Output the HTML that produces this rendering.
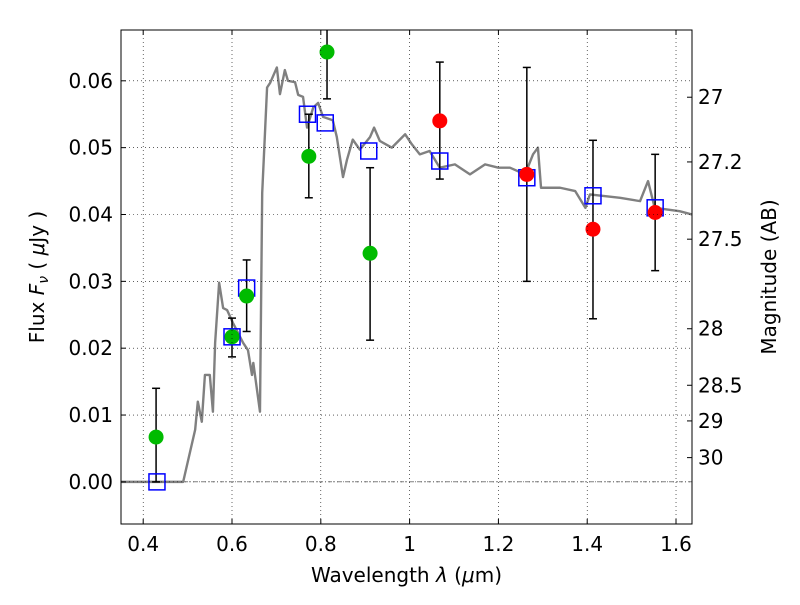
<!DOCTYPE html>
<html><head><meta charset="utf-8"><style>
body{margin:0;background:#fff;}
svg text{font-family:"DejaVu Sans","Liberation Sans",sans-serif;}
</style></head><body>
<svg id="chart" width="800" height="600"></svg>
<script>
const xTicks=[0.4,0.6,0.8,1.0,1.2,1.4,1.6];
const xTickLabels=["0.4","0.6","0.8","1","1.2","1.4","1.6"];
const yTicks=[0,0.01,0.02,0.03,0.04,0.05,0.06];
const yTickLabels=["0.00","0.01","0.02","0.03","0.04","0.05","0.06"];
const magTicks=[27,27.2,27.5,28,28.5,29,30];
const magTickLabels=["27","27.2","27.5","28","28.5","29","30"];
const specX=[0.35,0.49,0.517,0.523,0.532,0.539,0.55,0.557,0.562,0.571,0.58,0.589,0.602,0.625,0.636,0.645,0.648,0.663,0.668,0.679,0.686,0.701,0.708,0.719,0.726,0.742,0.749,0.76,0.769,0.783,0.794,0.805,0.827,0.836,0.85,0.859,0.872,0.888,0.911,0.92,0.933,0.96,0.99,1.005,1.023,1.045,1.068,1.102,1.136,1.17,1.2,1.226,1.26,1.278,1.289,1.296,1.339,1.373,1.396,1.406,1.474,1.519,1.537,1.552,1.608,1.636];
const specY=[0,0,0.0078,0.012,0.009,0.016,0.016,0.0105,0.0208,0.0298,0.026,0.0257,0.0238,0.0208,0.0197,0.016,0.0178,0.0105,0.0432,0.059,0.0597,0.062,0.058,0.0616,0.060,0.0598,0.0579,0.0576,0.053,0.056,0.0567,0.0546,0.0541,0.0516,0.0456,0.0482,0.0512,0.0497,0.0516,0.053,0.051,0.050,0.052,0.0505,0.049,0.0495,0.047,0.0475,0.046,0.0475,0.047,0.047,0.046,0.049,0.050,0.044,0.044,0.0435,0.041,0.043,0.0425,0.042,0.045,0.041,0.0405,0.040];
const greenX=[0.429,0.6,0.633,0.773,0.814,0.911];
const greenY=[0.0067,0.0217,0.0278,0.0487,0.0643,0.0342];
const greenLo=[0,0.0187,0.0225,0.0425,0.0573,0.0212];
const greenHi=[0.014,0.0245,0.0332,0.055,0.071,0.047];
const redX=[1.068,1.264,1.413,1.553];
const redY=[0.054,0.046,0.0378,0.0403];
const redLo=[0.0453,0.030,0.0244,0.0316];
const redHi=[0.0628,0.062,0.0511,0.049];
const modelX=[0.431,0.6,0.633,0.77,0.81,0.908,1.068,1.264,1.413,1.553];
const modelY=[0.0,0.0217,0.029,0.055,0.0537,0.0495,0.048,0.0455,0.0428,0.041];

const L=121,R=692,T=30,B=524;
const xmin=0.35,xmax=1.636,ymin=-0.0063,ymax=0.0676;
const sx=v=>L+(v-xmin)/(xmax-xmin)*(R-L);
const sy=v=>B-(v-ymin)/(ymax-ymin)*(B-T);
const magToFlux=m=>Math.pow(10,(23.9-m)/2.5);
const svg=document.getElementById('chart');
const NS='http://www.w3.org/2000/svg';
function mk(tag,attrs,parent){const e=document.createElementNS(NS,tag);for(const k in attrs)e.setAttribute(k,attrs[k]);(parent||svg).appendChild(e);return e;}
const clip=mk('clipPath',{id:'pc'});mk('rect',{x:L,y:T,width:R-L,height:B-T},clip);
const plot=mk('g',{'clip-path':'url(#pc)'});


xTicks.forEach((v,i)=>{const x=sx(v);
 const g=mk('line',{x1:x,x2:x,y1:T,y2:B,stroke:'#000','stroke-dasharray':'1,3','stroke-width':0.6});
 
 mk('line',{x1:x,x2:x,y1:B,y2:B-5,stroke:'#000'});mk('line',{x1:x,x2:x,y1:T,y2:T+5,stroke:'#000'});
 const t=mk('text',{x:x,y:B+27,'text-anchor':'middle','font-size':20});t.textContent=xTickLabels[i];
 });
yTicks.forEach((v,i)=>{const y=sy(v);
 const g=mk('line',{x1:L,x2:R,y1:y,y2:y,stroke:'#000','stroke-dasharray':'1,3','stroke-width':0.6});
 
 mk('line',{x1:L,x2:L+5,y1:y,y2:y,stroke:'#000'});
 const t=mk('text',{x:L-8,y:y+7,'text-anchor':'end','font-size':20});t.textContent=yTickLabels[i];
 });
magTicks.forEach((m,i)=>{const y=sy(magToFlux(m));
 mk('line',{x1:R,x2:R-5,y1:y,y2:y,stroke:'#000'});
 const t=mk('text',{x:R+6,y:y+7,'font-size':20});t.textContent=magTickLabels[i];
 });
const zl=mk('line',{x1:L,x2:R,y1:sy(0),y2:sy(0),stroke:'#000','stroke-dasharray':'4,2,1,2','stroke-width':0.6},plot);

const sp=mk('polyline',{points:specX.map((x,i)=>sx(x)+','+sy(specY[i])).join(' '),fill:'none',stroke:'#808080','stroke-width':2.4,'stroke-linejoin':'round'},plot);

function err(xs,lo,hi){xs.forEach((x,i)=>{const X=sx(x);
 const e=mk('line',{x1:X,x2:X,y1:sy(lo[i]),y2:sy(hi[i]),stroke:'#000','stroke-width':1.5},plot);
 
 mk('line',{x1:X-4,x2:X+4,y1:sy(lo[i]),y2:sy(lo[i]),stroke:'#000','stroke-width':1.5},plot);
 mk('line',{x1:X-4,x2:X+4,y1:sy(hi[i]),y2:sy(hi[i]),stroke:'#000','stroke-width':1.5},plot);});}
err(greenX,greenLo,greenHi);err(redX,redLo,redHi);
modelX.forEach((x,i)=>{const r=mk('rect',{x:sx(x)-8,y:sy(modelY[i])-8,width:16,height:16,fill:'none',stroke:'#0000ff','stroke-width':1.5},plot);
 });
greenX.forEach((x,i)=>{const c=mk('circle',{cx:sx(x),cy:sy(greenY[i]),r:7.5,fill:'#00bb00'},plot);
 });
redX.forEach((x,i)=>{const c=mk('circle',{cx:sx(x),cy:sy(redY[i]),r:7.5,fill:'#ff0000'},plot);
 });
const fr=mk('rect',{x:L,y:T,width:R-L,height:B-T,fill:'none',stroke:'#000','stroke-width':1});

const xt=mk('text',{x:(L+R)/2,y:582,'text-anchor':'middle','font-size':20});
xt.innerHTML='Wavelength  <tspan font-style="italic">λ</tspan> (<tspan font-style="italic">μ</tspan>m)';

const yt=mk('text',{x:44,y:(T+B)/2,'text-anchor':'middle','font-size':20,transform:'rotate(-90 44 '+((T+B)/2)+')'});
yt.innerHTML='Flux  <tspan font-style="italic">F</tspan><tspan font-style="italic" font-size="14" dy="4">ν</tspan><tspan dy="-4">  ( </tspan><tspan font-style="italic">μ</tspan>Jy )';

const mt=mk('text',{x:776,y:(T+B)/2,'text-anchor':'middle','font-size':20,transform:'rotate(-90 776 '+((T+B)/2)+')'});
mt.textContent='Magnitude (AB)';

</script>
</body></html>
